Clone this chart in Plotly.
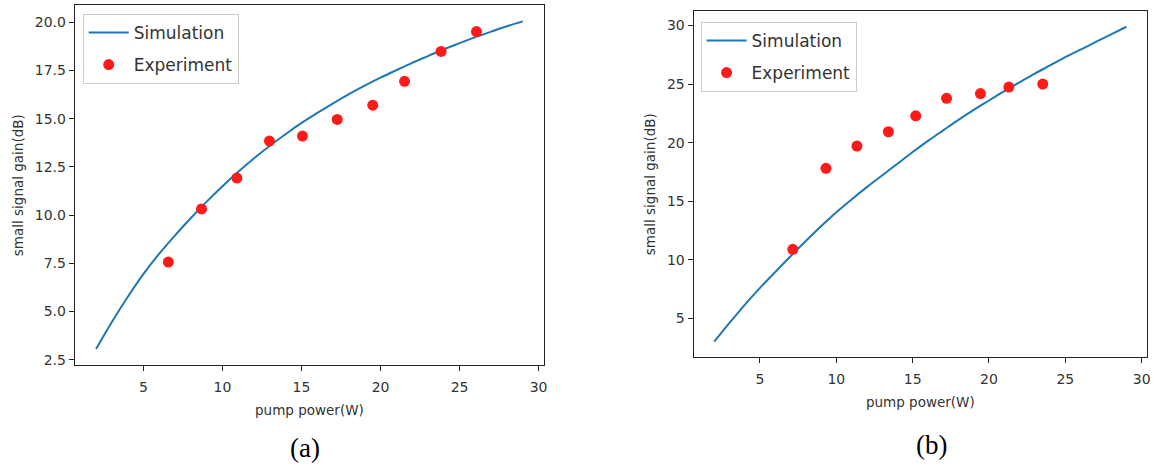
import plotly.graph_objects as go

# ---- data (a) ----
sim_a_x = [2, 3, 4, 5, 6, 7, 8, 9, 10, 11, 12, 13, 14, 15, 16, 17, 18, 19, 20,
           21, 22, 23, 24, 25, 26, 27, 28, 29]
sim_a_y = [3.05, 4.45, 5.75, 6.95, 8.0, 8.95, 9.85, 10.7, 11.5, 12.25, 12.95, 13.6,
           14.2, 14.78, 15.3, 15.8, 16.28, 16.72, 17.13, 17.52, 17.9, 18.25, 18.6,
           18.92, 19.23, 19.52, 19.8, 20.05]
exp_a_x = [6.57, 8.67, 10.91, 12.97, 15.06, 17.26, 19.51, 21.52, 23.83, 26.07]
exp_a_y = [7.56, 10.32, 11.92, 13.84, 14.1, 14.96, 15.7, 16.94, 18.49, 19.52]

# ---- data (b) ----
sim_b_x = [2, 3, 4, 5, 6, 7, 8, 9, 10, 11, 12, 13, 14, 15, 16, 17, 18, 19, 20,
           21, 22, 23, 24, 25, 26, 27, 28, 29]
sim_b_y = [3.0, 4.6, 6.15, 7.6, 8.95, 10.3, 11.6, 12.85, 14.05, 15.15, 16.2, 17.2,
           18.2, 19.2, 20.15, 21.05, 21.95, 22.8, 23.6, 24.4, 25.15, 25.9, 26.6,
           27.3, 27.95, 28.6, 29.25, 29.9]
exp_b_x = [7.15, 9.32, 11.35, 13.41, 15.2, 17.22, 19.44, 21.3, 23.52]
exp_b_y = [10.89, 17.81, 19.71, 20.93, 22.29, 23.79, 24.19, 24.75, 25.0]

x_ticks = [5, 10, 15, 20, 25, 30]
y_ticks_a = [2.5, 5.0, 7.5, 10.0, 12.5, 15.0, 17.5, 20.0]
y_ticks_b = [5, 10, 15, 20, 25, 30]

LINE_C = "#1f77b4"
DOT_C = "#ff1a1a"
TXT_C = "#333333"
FONT = "DejaVu Sans"

fig = go.Figure()

fig.add_trace(go.Scatter(x=sim_a_x, y=sim_a_y, mode="lines", name="Simulation",
                         line=dict(color=LINE_C, width=2, shape="spline"),
                         xaxis="x", yaxis="y", legend="legend", legendgroup="a1"))
fig.add_trace(go.Scatter(x=exp_a_x, y=exp_a_y, mode="markers", name="Experiment",
                         marker=dict(color=DOT_C, size=11),
                         xaxis="x", yaxis="y", legend="legend", legendgroup="a2"))
fig.add_trace(go.Scatter(x=sim_b_x, y=sim_b_y, mode="lines", name="Simulation",
                         line=dict(color=LINE_C, width=2, shape="spline"),
                         xaxis="x2", yaxis="y2", legend="legend2", legendgroup="b1"))
fig.add_trace(go.Scatter(x=exp_b_x, y=exp_b_y, mode="markers", name="Experiment",
                         marker=dict(color=DOT_C, size=11),
                         xaxis="x2", yaxis="y2", legend="legend2", legendgroup="b2"))

W, H = 1155, 467

def xdom(a, b):
    return [a / W, b / W]

def ydom(top, bottom):
    return [(H - bottom) / H, (H - top) / H]

axis_common = dict(showline=True, linecolor="#222222", linewidth=1, mirror=True,
                   ticks="outside", ticklen=5, tickcolor="#222222", tickwidth=1,
                   showgrid=False, zeroline=False,
                   tickfont=dict(family=FONT, size=14, color=TXT_C))
title_font = dict(family=FONT, size=13.5, color=TXT_C)

fig.update_layout(
    width=W, height=H,
    margin=dict(l=0, r=0, t=0, b=0),
    paper_bgcolor="white", plot_bgcolor="white",
    font=dict(family=FONT, color=TXT_C),
    xaxis=dict(domain=xdom(75, 546), range=[0.65, 30.35], tickvals=x_ticks,
               anchor="y", ticklabelstandoff=4,
               title=dict(text="pump power(W)", standoff=11, font=title_font),
               **axis_common),
    yaxis=dict(domain=ydom(5, 367), range=[2.2, 20.9], tickvals=y_ticks_a,
               tickformat=".1f", anchor="x",
               title=dict(text="small signal gain(dB)", standoff=8, font=title_font),
               **axis_common),
    xaxis2=dict(domain=xdom(696, 1151), range=[0.65, 30.35], tickvals=x_ticks,
                anchor="y2", ticklabelstandoff=4,
                title=dict(text="pump power(W)", standoff=11, font=title_font),
                **axis_common),
    yaxis2=dict(domain=ydom(11, 359), range=[1.65, 31.25], tickvals=y_ticks_b,
                anchor="x2",
                title=dict(text="small signal gain(dB)", standoff=8, font=title_font),
                **axis_common),
    legend=dict(x=83 / W, y=(H - 14) / H, xanchor="left", yanchor="top",
                bgcolor="white", bordercolor="#cccccc", borderwidth=1,
                font=dict(family=FONT, size=17, color=TXT_C), tracegroupgap=7,
                traceorder="grouped", itemwidth=40),
    legend2=dict(x=703 / W, y=(H - 22) / H, xanchor="left", yanchor="top",
                 bgcolor="white", bordercolor="#cccccc", borderwidth=1,
                 font=dict(family=FONT, size=17, color=TXT_C), tracegroupgap=7,
                 traceorder="grouped", itemwidth=40),
    showlegend=True,
    annotations=[
        dict(text="(a)", x=306 / W, y=(H - 450) / H, xref="paper", yref="paper",
             xanchor="center", yanchor="middle", showarrow=False,
             font=dict(family="Liberation Serif", size=27, color="black")),
        dict(text="(b)", x=935 / W, y=(H - 447) / H, xref="paper", yref="paper",
             xanchor="center", yanchor="middle", showarrow=False,
             font=dict(family="Liberation Serif", size=27, color="black")),
    ],
)

fig.write_html("out.html")
